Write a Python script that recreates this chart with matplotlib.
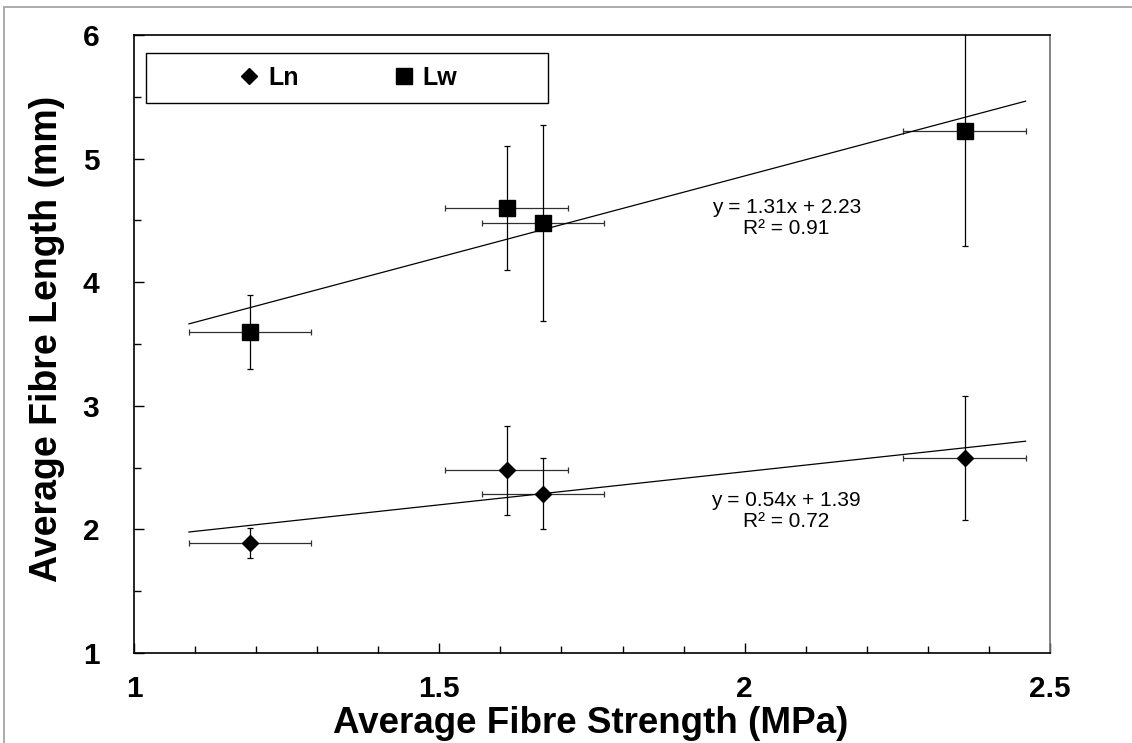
import numpy as np
import matplotlib
matplotlib.use("Agg")
import matplotlib.pyplot as plt
from matplotlib.patches import Rectangle
from matplotlib.ticker import MultipleLocator

plt.rcParams['font.family'] = ['Liberation Sans', 'DejaVu Sans']

# ---- data ----
strength = [1.19, 1.61, 1.67, 2.36]          # MPa
strength_err = [0.10, 0.10, 0.10, 0.10]
ln_vals = [1.89, 2.48, 2.29, 2.58]            # mm
ln_err = [0.12, 0.36, 0.29, 0.50]
lw_vals = [3.60, 4.60, 4.48, 5.22]            # mm
lw_err = [0.30, 0.50, 0.79, 0.93]
series_names = ["Ln", "Lw"]
eq_lw = "y = 1.31x + 2.23\nR² = 0.91"
eq_ln = "y = 0.54x + 1.39\nR² = 0.72"
xticks = [1, 1.5, 2, 2.5]
yticks = [1, 2, 3, 4, 5, 6]

W, H = 1132, 743
fig = plt.figure(figsize=(W / 100, H / 100), dpi=100)
ax = fig.add_axes([134 / W, 1 - 653 / H, (1050 - 134) / W, (653 - 35) / H])

# outer border (left/top visible)
fig.patches.append(Rectangle((4 / W, -0.05), 1.2, (H - 7) / H + 0.05, transform=fig.transFigure,
                             fill=False, edgecolor='#a6a6a6', lw=1.3))

x = np.array(strength)
for vals, errs in [(ln_vals, ln_err), (lw_vals, lw_err)]:
    y = np.array(vals)
    ax.errorbar(x, y, xerr=strength_err, fmt='none', ecolor='#303030', elinewidth=0.9,
                capsize=2.5, capthick=0.9, zorder=2)
    ax.errorbar(x, y, yerr=errs, fmt='none', ecolor='black', elinewidth=0.9,
                capsize=2.5, capthick=0.9, zorder=2)
    k, b = np.polyfit(x, y, 1)
    xs = np.array([x.min() - 0.1, x.max() + 0.1])
    ax.plot(xs, k * xs + b, color='black', lw=0.9, zorder=3)

h1, = ax.plot(x, ln_vals, linestyle='none', marker='D', ms=8.5, color='black', zorder=4)
h2, = ax.plot(x, lw_vals, linestyle='none', marker='s', ms=11.5, color='black', zorder=4)

ax.text(2.068, 4.52, eq_lw, ha='center', va='center', fontsize=15, linespacing=1.1)
ax.text(2.068, 2.15, eq_ln, ha='center', va='center', fontsize=15, linespacing=1.1)

ax.set_xlim(1, 2.5)
ax.set_ylim(1, 6)
ax.set_xticks(xticks)
ax.set_xticklabels([f"{v:g}" for v in xticks])
ax.set_yticks(yticks)
ax.xaxis.set_minor_locator(MultipleLocator(0.1))
ax.yaxis.set_minor_locator(MultipleLocator(0.5))
ax.tick_params(which='both', direction='in', color='black', width=1)
ax.tick_params(which='major', length=7)
ax.tick_params(which='minor', length=5)
ax.tick_params(axis='x', which='major', labelsize=21.5, pad=16)
ax.tick_params(axis='y', which='major', labelsize=21.5, pad=25)
for lab in ax.get_xticklabels() + ax.get_yticklabels():
    lab.set_fontweight('bold')
for s in ax.spines.values():
    s.set_linewidth(1.2)
    s.set_color('black')
ax.spines['right'].set_color('#707070')

ax.set_xlabel("Average Fibre Strength (MPa)", fontsize=26.5, fontweight='bold', va='baseline')
ax.xaxis.set_label_coords((591 - 134) / 916, (653 - 733) / 618)
ax.set_ylabel("Average Fibre Length (mm)", fontsize=27, fontweight='bold', va='center')
ax.yaxis.set_label_coords((47 - 134) / 916, (653 - 339) / 618)

# legend box
bx0, bx1 = (146 - 134) / 916, (548 - 134) / 916
by0, by1 = (653 - 103) / 618, (653 - 53) / 618
ax.add_patch(Rectangle((bx0, by0), bx1 - bx0, by1 - by0, transform=ax.transAxes,
                       fill=False, edgecolor='black', lw=1, zorder=5, clip_on=False))
ax.legend([h1, h2], series_names, loc='center', bbox_to_anchor=((bx0 + bx1) / 2, (by0 + by1) / 2),
          ncol=2, frameon=False, prop={'weight': 'bold', 'size': 18},
          handlelength=1.0, handletextpad=0.25, columnspacing=3.7)

fig.savefig("out.png", dpi=100)
